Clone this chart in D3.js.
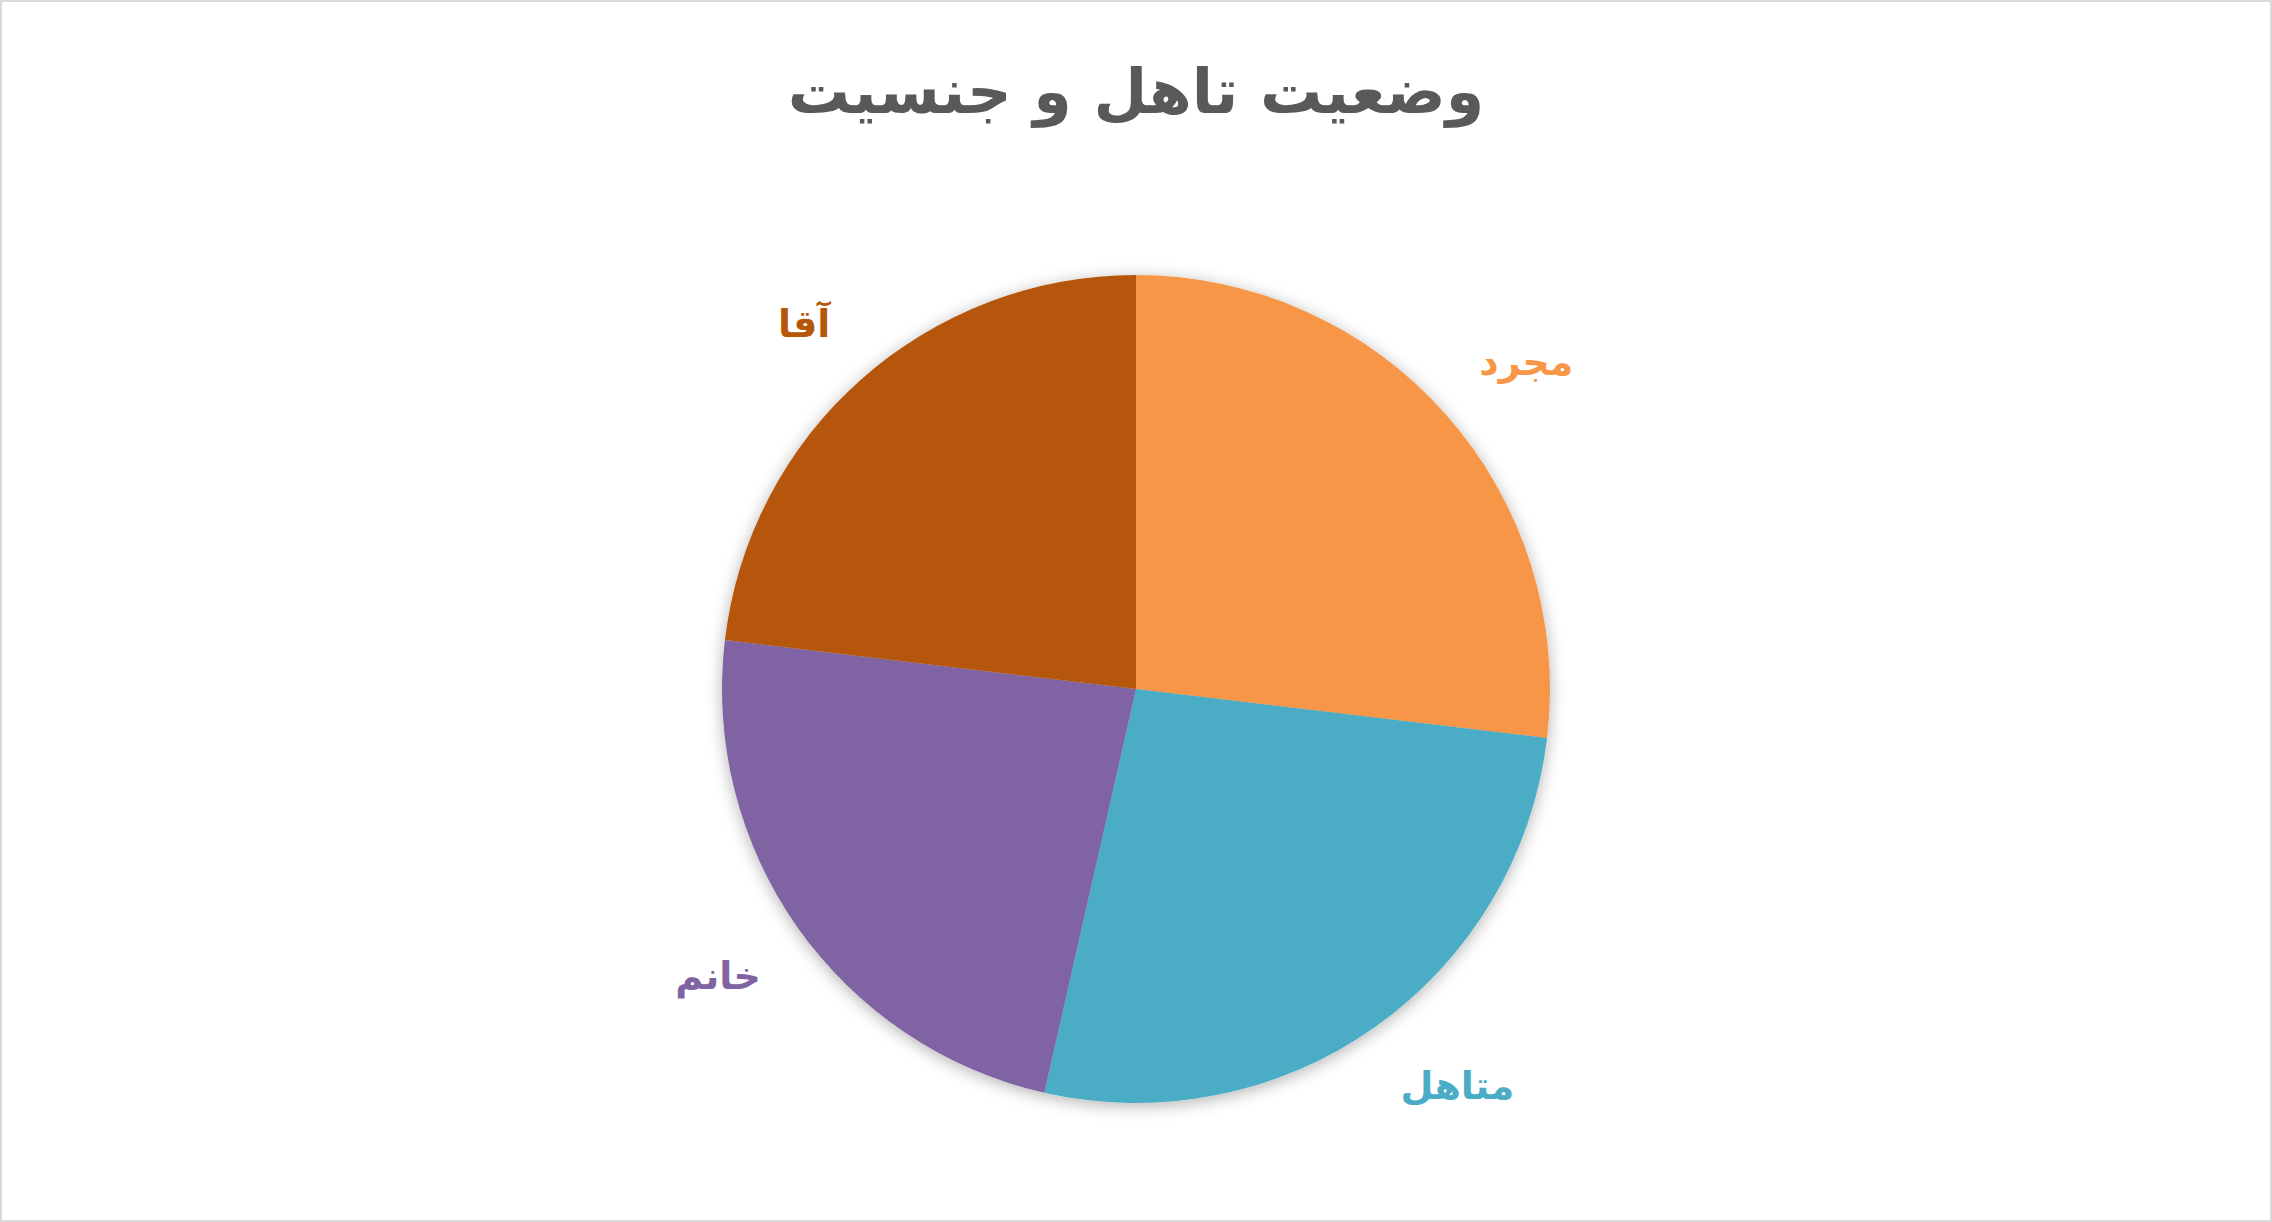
<!DOCTYPE html>
<html lang="fa">
<head>
<meta charset="utf-8">
<script src="https://cdn.jsdelivr.net/npm/d3@7"></script>
<style>
  html, body { margin: 0; padding: 0; background: #fff; }
  svg { display: block; }
</style>
</head>
<body>
<div id="chart-area"></div>
<script>
// chart data
const title = "وضعیت تاهل و جنسیت";
const categories = ["مجرد", "متاهل", "خانم", "آقا"];
const values = [121, 120, 105, 104];
const colors = ["#F79646", "#4BACC6", "#8064A2", "#B65708"];

const WIDTH = 2272;
const HEIGHT = 1222;
const CX = 1136, CY = 689, R = 414, LABEL_GAP = 45;

const svg = d3.select("#chart-area").append("svg")
	.attr("width", WIDTH)
	.attr("height", HEIGHT)

// outer frame
svg.append("rect")
	.attr("x", 1).attr("y", 1)
	.attr("width", WIDTH - 2).attr("height", HEIGHT - 2)
	.attr("fill", "#fff")
	.attr("stroke", "#d9d9d9")
	.attr("stroke-width", 2)

const defs = svg.append("defs");
const shadow = defs.append("filter")
	.attr("id", "pieShadow")
	.attr("x", "-20%").attr("y", "-20%")
	.attr("width", "140%").attr("height", "140%")
shadow.append("feDropShadow")
	.attr("dx", 0).attr("dy", 3)
	.attr("stdDeviation", 8)
	.attr("flood-color", "#000")
	.attr("flood-opacity", 0.3)

svg.append("text")
	.attr("x", CX)
	.attr("y", 113)
	.attr("text-anchor", "middle")
	.attr("direction", "rtl")
	.style("font-family", "'DejaVu Sans', sans-serif")
	.style("font-weight", "bold")
	.style("font-size", "62px")
	.style("fill", "#595959")
	.text(title)

const colorScale = d3.scaleOrdinal(categories, colors);

const pie = d3.pie()
	.sort(null)
	.value(d => d.value)

const rows = categories.map((c, i) => ({ name: c, value: values[i] }));
const arcs = pie(rows);

const arc = d3.arc().innerRadius(0).outerRadius(R);
const edgeArc = d3.arc().innerRadius(R + LABEL_GAP).outerRadius(R + LABEL_GAP);

const g = svg.append("g")
	.attr("transform", `translate(${CX}, ${CY})`)

g.append("g")
	.attr("filter", "url(#pieShadow)")
	.selectAll("path")
	.data(arcs)
	.enter()
	.append("path")
	.attr("d", arc)
	.style("fill", d => colorScale(d.data.name))

// outside-end labels: the label box corner nearest the pie sits on the edge ring
g.selectAll(".label")
	.data(arcs)
	.enter()
	.append("text")
	.attr("class", "label")
	.attr("text-anchor", "middle")
	.attr("direction", "rtl")
	.style("font-family", "'DejaVu Sans', sans-serif")
	.style("font-weight", "bold")
	.style("font-size", "38px")
	.style("fill", d => colorScale(d.data.name))
	.text(d => d.data.name)
	.each(function(d) {
		const box = this.getBBox();
		const mid = (d.startAngle + d.endAngle) / 2;
		const [px, py] = edgeArc.centroid(d);
		const cx = px + Math.sign(Math.sin(mid)) * box.width / 2;
		const cy = py - Math.sign(Math.cos(mid)) * box.height / 2;
		const tx = cx - (box.x + box.width / 2);
		const ty = cy - (box.y + box.height / 2);
		d3.select(this).attr("transform", `translate(${tx}, ${ty})`);
	})
</script>
</body>
</html>
